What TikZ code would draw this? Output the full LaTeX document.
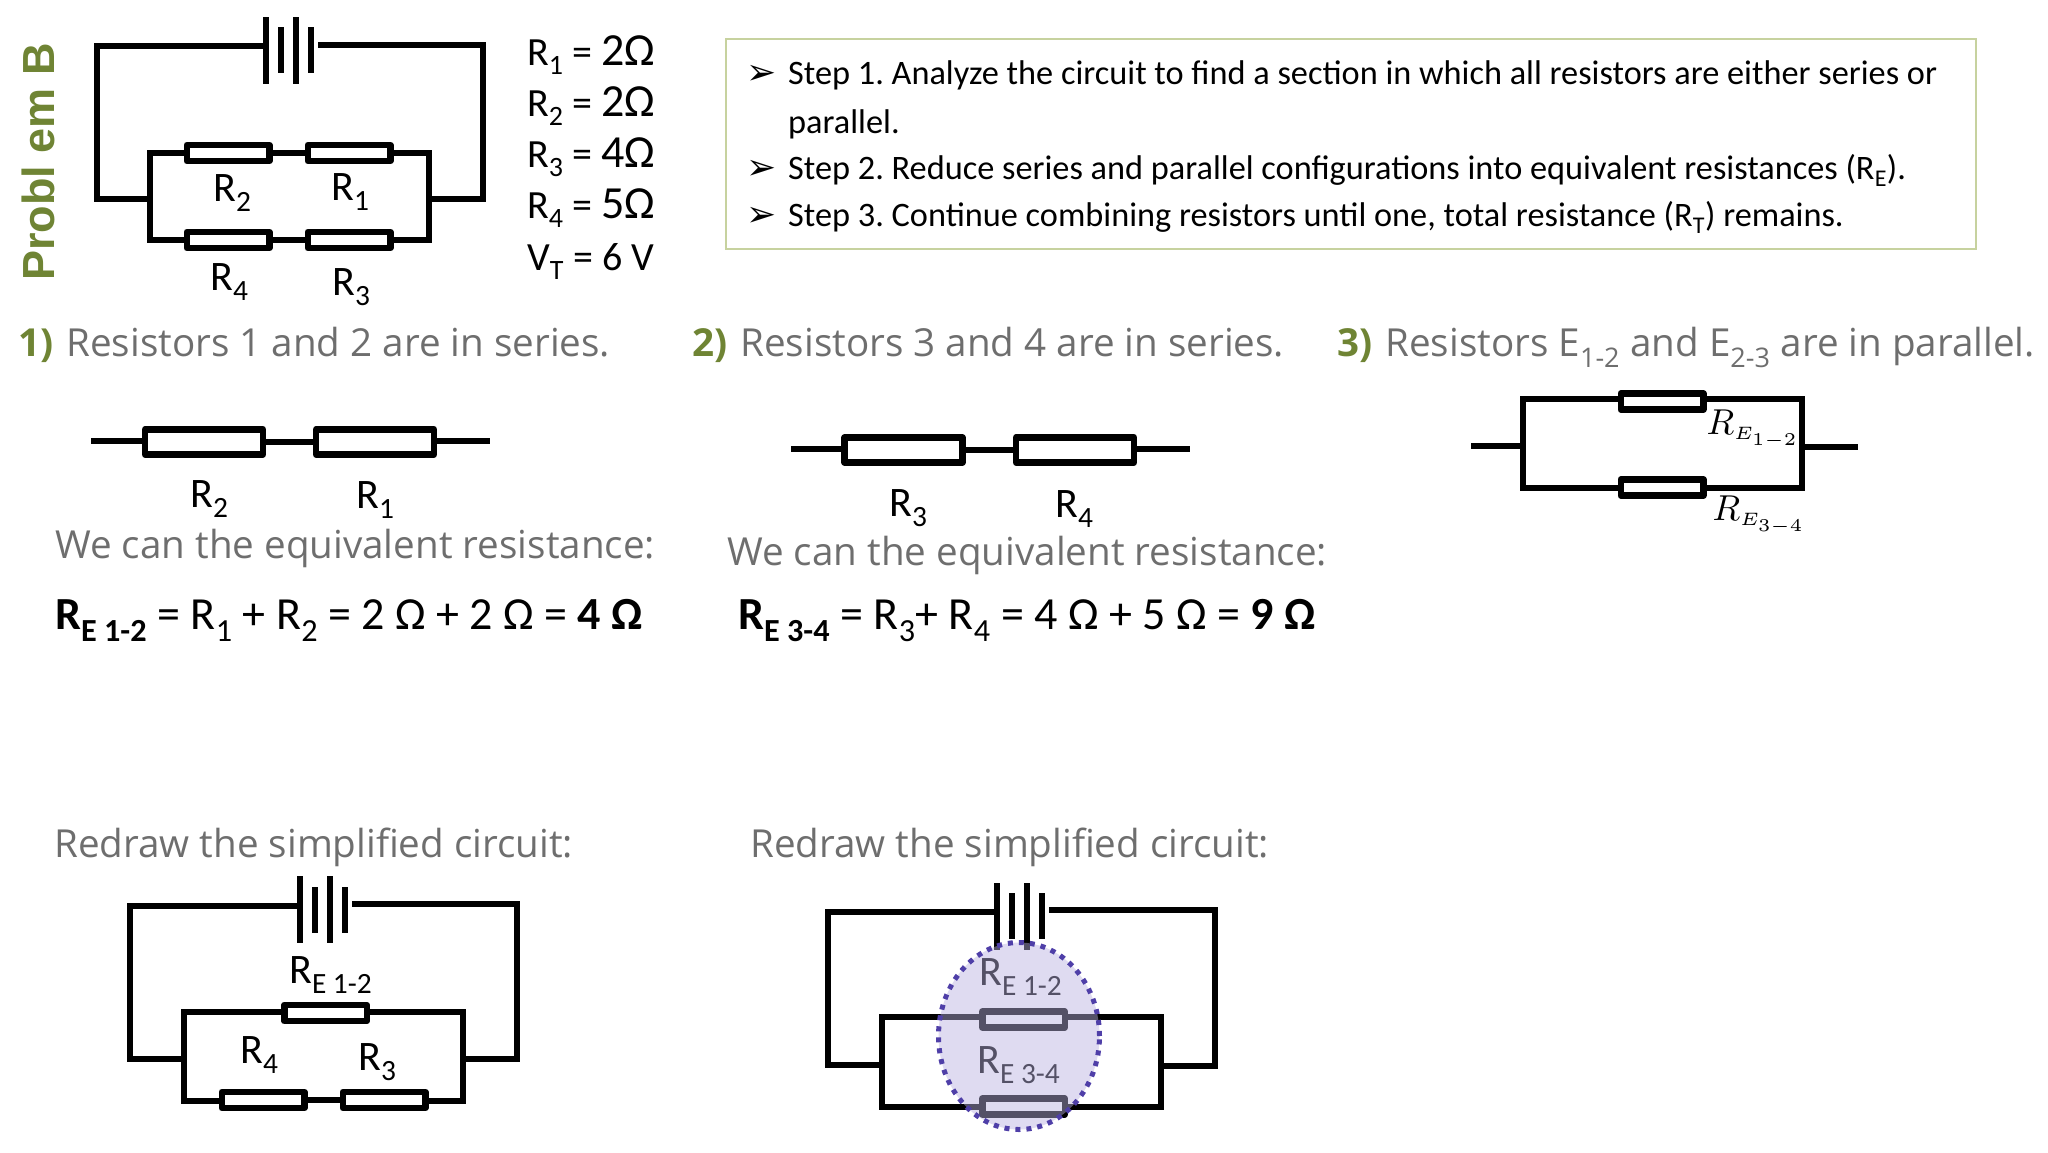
\documentclass[tikz,border=0pt]{standalone}
\usepackage{fontspec}
\setmainfont{Carlito}
\newfontfamily\headfont{Open Sans}
\newfontfamily\probfont{Liberation Sans}
\newfontfamily\symfont{DejaVu Sans}
\usetikzlibrary{shapes}
\definecolor{probgreen}{HTML}{6F8434}
\definecolor{headgrey}{HTML}{6E6E6E}
\definecolor{boxgreen}{HTML}{C7D29F}
\definecolor{halofill}{HTML}{B9B1E0}
\definecolor{halodot}{HTML}{4F3FA8}
\newcommand{\fsize}[1]{\fontsize{#1}{#1}\selectfont}
\newcommand{\head}[2]{{\color{probgreen}\bfseries #1}\hspace{3pt} #2}
\newcommand{\ohm}[1]{{\fsize{46}#1Ω}}
\tikzset{
	wire/.style={line width=6.5pt},
	res/.style={draw,line width=6.5pt,line join=round,fill=white,minimum width=118pt,minimum height=25pt,inner sep=0pt},
	sres/.style={res,minimum width=82.5pt,minimum height=16pt},
	plate/.style={fill=black,inner sep=0pt,minimum width=6.5pt},
	lplate/.style={plate,minimum height=67pt},
	splate/.style={plate,minimum height=46pt},
	lab/.style={anchor=base west,inner sep=0pt,font=\fsize{42}},
	val/.style={anchor=base west,inner sep=0pt,font=\fsize{40}},
	form/.style={anchor=base west,inner sep=0pt,font=\fsize{46}},
	steptxt/.style={anchor=base west,inner sep=0pt,font=\frenchspacing\fsize{34.3}},
	bullet/.style={anchor=base west,inner sep=0pt,font=\symfont\fsize{36}},
	headtxt/.style={anchor=base west,inner sep=0pt,text=headgrey,font=\headfont\fsize{38.6}},
	mlab/.style={anchor=base west,inner sep=0pt,scale=3.6}
}
\begin{document}
\begin{tikzpicture}[x=1pt,y=-1pt,node distance=15pt]
	\useasboundingbox (0,0) rectangle (2048,1152);

	% problem circuit
	\node[rotate=90,text=probgreen,font=\probfont\bfseries\fsize{45}] (title) at (38,162) {Probl em B};
	\node[lplate] (pa1) at (266,50) {};
	\node[splate,right of=pa1] (pa2) {};
	\node[lplate,right of=pa2] (pa3) {};
	\node[splate,right of=pa3] (pa4) {};
	\coordinate (atl) at (97,46);
	\coordinate (abl) at (97,199);
	\coordinate (ail) at (150,199);
	\coordinate (ats) at (318,45);
	\coordinate (atr) at (483,45);
	\coordinate (abr) at (483,199);
	\coordinate (air) at (429,199);
	\draw[wire] (pa1 |- atl) -- (atl) -- (abl) -- (ail);
	\draw[wire] (ats) -- (atr) -- (abr) -- (air);
	\node[sres] (ar2) at (228,153) {};
	\node[sres,right of=ar2,node distance=121pt] (ar1) {};
	\node[sres] (ar4) at (228,240) {};
	\node[sres,right of=ar4,node distance=121pt] (ar3) {};
	\coordinate (aitl) at (150,153);
	\coordinate (aibl) at (150,240);
	\coordinate (aitr) at (429,153);
	\coordinate (aibr) at (429,240);
	\draw[wire] (ar2) -- (aitl) -- (aibl) -- (ar4);
	\draw[wire] (ar1) -- (aitr) -- (aibr) -- (ar3);
	\draw[wire] (ar2) -- (ar1);
	\draw[wire] (ar4) -- (ar3);
	\node[lab] (la2) at (213,201) {R\textsubscript{2}};
	\node[lab] (la1) at (331,200) {R\textsubscript{1}};
	\node[lab] (la4) at (210,290) {R\textsubscript{4}};
	\node[lab] (la3) at (332,295) {R\textsubscript{3}};
	\node[val] (va1) at (527,65) {R\textsubscript{1} = \ohm{2}};
	\node[val] (va2) at (527,116) {R\textsubscript{2} = \ohm{2}};
	\node[val] (va3) at (527,167) {R\textsubscript{3} = \ohm{4}};
	\node[val] (va4) at (527,218) {R\textsubscript{4} = \ohm{5}};
	\node[val] (va5) at (527,270) {V\textsubscript{T} = 6 V};

	% steps
	\node[draw=boxgreen,line width=2pt,minimum width=1250pt,minimum height=210pt,inner sep=0pt] (stepbox) at (1350.5,144) {};
	\node[bullet] (b1) at (746,84) {➢};
	\node[steptxt] (s1) at (788,84.5) {Step 1. Analyze the circuit to find a section in which all resistors are either series or};
	\node[steptxt] (s1b) at (788,133.5) {parallel.};
	\node[bullet] (b2) at (746,179) {➢};
	\node[steptxt] (s2) at (788,179.5) {Step 2. Reduce series and parallel configurations into equivalent resistances (R\textsubscript{E}).};
	\node[bullet] (b3) at (746,226) {➢};
	\node[steptxt] (s3) at (788,226.5) {Step 3. Continue combining resistors until one, total resistance (R\textsubscript{T}) remains.};

	% headings
	\node[headtxt] (h1) at (18,356) {\head{1)}{Resistors 1 and 2 are in series.}};
	\node[headtxt] (h2) at (692,356) {\head{2)}{Resistors 3 and 4 are in series.}};
	\node[headtxt] (h3) at (1337,356) {\head{3)}{Resistors E\textsubscript{1-2} and E\textsubscript{2-3} are in parallel.}};

	% series 1
	\coordinate (sa) at (91,441);
	\coordinate (sb) at (490,441);
	\node[res] (s1r2) at (204,442) {};
	\node[res,right of=s1r2,node distance=171pt] (s1r1) {};
	\draw[wire] (sa) -- (s1r2.west |- sa);
	\draw[wire] (s1r2) -- (s1r1);
	\draw[wire] (s1r1.east |- sb) -- (sb);
	\node[lab] (l1r2) at (190,507) {R\textsubscript{2}};
	\node[lab] (l1r1) at (356,508) {R\textsubscript{1}};
	\node[headtxt] (eq1) at (55,558) {We can the equivalent resistance:};
	\node[form] (f1) at (55,629) {{\bfseries R\textsubscript{E 1-2}} = R\textsubscript{1} + R\textsubscript{2} = 2 Ω + 2 Ω = {\bfseries 4 Ω}};

	% series 2
	\coordinate (sc) at (791,449);
	\coordinate (sd) at (1190,449);
	\node[res] (s2r3) at (903.5,450) {};
	\node[res,right of=s2r3,node distance=171.5pt] (s2r4) {};
	\draw[wire] (sc) -- (s2r3.west |- sc);
	\draw[wire] (s2r3) -- (s2r4);
	\draw[wire] (s2r4.east |- sd) -- (sd);
	\node[lab] (l2r3) at (889,516) {R\textsubscript{3}};
	\node[lab] (l2r4) at (1055,517) {R\textsubscript{4}};
	\node[headtxt] (eq2) at (727,565) {We can the equivalent resistance:};
	\node[form] (f2) at (738,629) {{\bfseries R\textsubscript{E 3-4}} = R\textsubscript{3}+ R\textsubscript{4} = 4 Ω + 5 Ω = {\bfseries 9 Ω}};

	% parallel
	\node[sres] (prt) at (1662,401.5) {};
	\node[sres,below of=prt,node distance=86pt] (prb) {};
	\coordinate (ptl) at (1523,399);
	\coordinate (pbl) at (1523,488);
	\coordinate (ptr) at (1802,399);
	\coordinate (pbr) at (1802,488);
	\coordinate (pl) at (1471,446);
	\coordinate (pm) at (1523,446);
	\coordinate (pn) at (1802,447);
	\coordinate (pr) at (1858,447);
	\draw[wire] (prt.west |- ptl) -- (ptl) -- (pbl) -- (prb.west |- pbl);
	\draw[wire] (prt.east |- ptr) -- (ptr) -- (pbr) -- (prb.east |- pbr);
	\draw[wire] (pl) -- (pm);
	\draw[wire] (pn) -- (pr);
	\node[mlab] (lpt) at (1706,434) {$R_{\scriptscriptstyle E_{1-2}}$};
	\node[mlab] (lpb) at (1712,520) {$R_{\scriptscriptstyle E_{3-4}}$};

	% redraw 1
	\node[headtxt] (rd1) at (54,857) {Redraw the simplified circuit:};
	\node[lplate] (pc1) at (300,909.5) {};
	\node[splate,right of=pc1] (pc2) {};
	\node[lplate,right of=pc2] (pc3) {};
	\node[splate,right of=pc3] (pc4) {};
	\coordinate (ctl) at (130,906);
	\coordinate (cbl) at (130,1059);
	\coordinate (cil) at (184,1059);
	\coordinate (cts) at (352,904);
	\coordinate (ctr) at (517,904);
	\coordinate (cbr) at (517,1059);
	\coordinate (cir) at (463,1059);
	\draw[wire] (pc1 |- ctl) -- (ctl) -- (cbl) -- (cil);
	\draw[wire] (cts) -- (ctr) -- (cbr) -- (cir);
	\node[sres] (cre) at (325.5,1013) {};
	\node[sres] (cr4) at (263,1100) {};
	\node[sres,right of=cr4,node distance=121pt] (cr3) {};
	\coordinate (citl) at (184,1012);
	\coordinate (cibl) at (184,1101);
	\coordinate (citr) at (463,1012);
	\coordinate (cibr) at (463,1101);
	\draw[wire] (cre.west |- citl) -- (citl) -- (cibl) -- (cr4.west |- cibl);
	\draw[wire] (cre.east |- citr) -- (citr) -- (cibr) -- (cr3.east |- cibr);
	\draw[wire] (cr4) -- (cr3);
	\node[lab] (lce) at (289,983) {R\textsubscript{E 1-2}};
	\node[lab] (lc4) at (240,1063) {R\textsubscript{4}};
	\node[lab] (lc3) at (358,1070) {R\textsubscript{3}};

	% redraw 2
	\node[headtxt] (rd2) at (750,857) {Redraw the simplified circuit:};
	\node[lplate] (pd1) at (997,916) {};
	\node[splate,right of=pd1] (pd2) {};
	\node[lplate,right of=pd2] (pd3) {};
	\node[splate,right of=pd3] (pd4) {};
	\coordinate (dtl) at (828,912);
	\coordinate (dbl) at (828,1065);
	\coordinate (dil) at (882,1065);
	\coordinate (dts) at (1049,910);
	\coordinate (dtr) at (1215,910);
	\coordinate (dbr) at (1215,1066);
	\coordinate (dir) at (1161,1066);
	\draw[wire] (pd1 |- dtl) -- (dtl) -- (dbl) -- (dil);
	\draw[wire] (dts) -- (dtr) -- (dbr) -- (dir);
	\node[sres] (dre) at (1023.5,1019.5) {};
	\node[sres,below of=dre,node distance=87pt] (drf) {};
	\coordinate (ditl) at (882,1017);
	\coordinate (dibl) at (882,1107);
	\coordinate (ditr) at (1161,1017);
	\coordinate (dibr) at (1161,1107);
	\draw[wire] (dre.west |- ditl) -- (ditl) -- (dibl) -- (drf.west |- dibl);
	\draw[wire] (dre.east |- ditr) -- (ditr) -- (dibr) -- (drf.east |- dibr);
	\node[lab] (lde) at (979,985) {R\textsubscript{E 1-2}};
	\node[lab] (ldf) at (977,1073) {R\textsubscript{E 3-4}};
	\node[ellipse,draw=halodot,line width=5pt,dash pattern=on 5pt off 6pt,fill=halofill,fill opacity=.46,minimum width=161pt,minimum height=187pt,inner sep=0pt] (halo) at (1019,1036) {};
\end{tikzpicture}
\end{document}
